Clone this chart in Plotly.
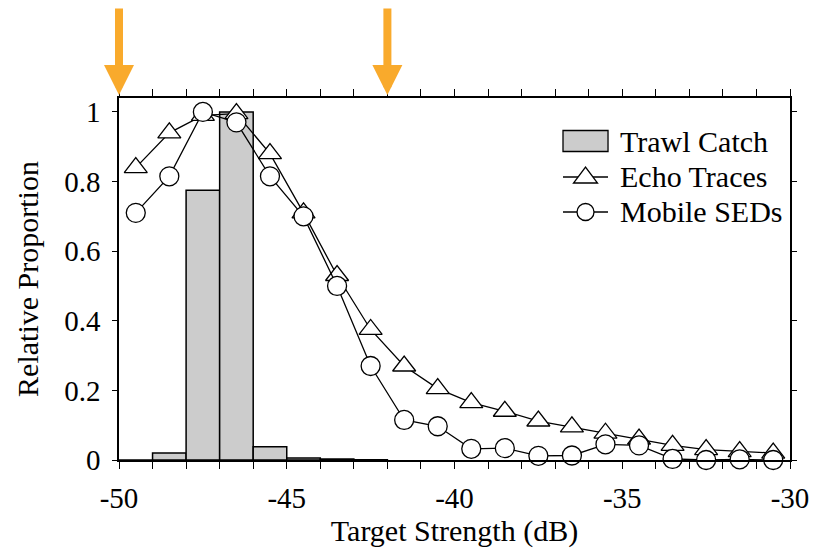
import plotly.graph_objects as go

# Target strength bin centres (dB)
trawl_x = [-49.5, -48.5, -47.5, -46.5, -45.5, -44.5, -43.5, -42.5]
trawl_catch = [0.0, 0.02, 0.775, 1.0, 0.038, 0.006, 0.003, 0.001]

ts_x = [-49.5, -48.5, -47.5, -46.5, -45.5, -44.5, -43.5, -42.5, -41.5, -40.5,
        -39.5, -38.5, -37.5, -36.5, -35.5, -34.5, -33.5, -32.5, -31.5, -30.5]
echo_traces = [0.84, 0.94, 0.99, 0.995, 0.88, 0.71, 0.53, 0.375, 0.27, 0.205,
               0.165, 0.14, 0.112, 0.095, 0.077, 0.06, 0.042, 0.03, 0.024, 0.02]
mobile_seds = [0.71, 0.815, 1.0, 0.97, 0.815, 0.70, 0.50, 0.27, 0.115, 0.097,
               0.032, 0.034, 0.012, 0.013, 0.045, 0.042, 0.003, 0.0, 0.002, 0.0]

x_ticks = [-50, -45, -40, -35, -30]
x_tick_labels = ["-50", "-45", "-40", "-35", "-30"]
y_ticks = [0, 0.2, 0.4, 0.6, 0.8, 1.0]
y_tick_labels = ["0", "0.2", "0.4", "0.6", "0.8", "1"]

arrow_x = [-50, -42]

FONT = "Liberation Serif"
ORANGE = "#F9AA2C"
TICK_SIZE = 29
TITLE_SIZE = 30
LEGEND_SIZE = 30

fig = go.Figure()

fig.add_trace(go.Bar(
    x=trawl_x, y=trawl_catch, width=1.0, name="Trawl Catch",
    marker=dict(color="#CCCCCC", line=dict(color="black", width=1.5)),
    showlegend=False,
))
fig.add_trace(go.Scatter(
    x=ts_x, y=echo_traces, mode="lines+markers", name="Echo Traces",
    line=dict(color="black", width=1.3),
    marker=dict(symbol="triangle-up", size=20, color="white",
                line=dict(color="black", width=1.3)),
    showlegend=False, cliponaxis=False,
))
fig.add_trace(go.Scatter(
    x=ts_x, y=mobile_seds, mode="lines+markers", name="Mobile SEDs",
    line=dict(color="black", width=1.3),
    marker=dict(symbol="circle", size=19, color="white",
                line=dict(color="black", width=1.3)),
    showlegend=False, cliponaxis=False,
))

# Hand-built legend (paper coordinates)
leg_x0, leg_x1 = 0.6617, 0.7288
leg_xm = (leg_x0 + leg_x1) / 2
leg_text_x = 0.7437
row_y = [0.8812, 0.7818, 0.6851]
labels = ["Trawl Catch", "Echo Traces", "Mobile SEDs"]

shapes = [
    dict(type="rect", xref="paper", yref="paper", x0=leg_x0, x1=leg_x1,
         y0=row_y[0] - 0.029, y1=row_y[0] + 0.029,
         fillcolor="#CCCCCC", line=dict(color="black", width=1.3)),
]
for ry in row_y[1:]:
    shapes.append(dict(type="line", xref="paper", yref="paper",
                       x0=leg_x0, x1=leg_x1, y0=ry, y1=ry,
                       line=dict(color="black", width=1.3)))
shapes.append(dict(type="path", xref="paper", yref="paper",
                   xsizemode="pixel", ysizemode="pixel",
                   xanchor=leg_xm, yanchor=row_y[1],
                   path="M-12,-6 L12,-6 L0,10 Z",
                   fillcolor="white", line=dict(color="black", width=1.3)))
shapes.append(dict(type="circle", xref="paper", yref="paper",
                   xsizemode="pixel", ysizemode="pixel",
                   xanchor=leg_xm, yanchor=row_y[2],
                   x0=-8.5, x1=8.5, y0=-8.5, y1=8.5,
                   fillcolor="white", line=dict(color="black", width=1.3)))

annotations = []
for ry, lab in zip(row_y, labels):
    annotations.append(dict(x=leg_text_x, y=ry, xref="paper", yref="paper",
                            text=lab, showarrow=False, xanchor="left",
                            yanchor="middle", yshift=0,
                            font=dict(family=FONT, size=LEGEND_SIZE,
                                      color="black")))

# Orange marker arrows above the plot
for ax_val in arrow_x:
    annotations.append(dict(x=ax_val, y=1.0, xref="x", yref="paper",
                            ax=0, ay=-91, axref="pixel", ayref="pixel",
                            showarrow=True, arrowhead=2, arrowsize=0.75,
                            arrowwidth=8, arrowcolor=ORANGE, standoff=3,
                            text=""))

fig.update_layout(
    width=819, height=550,
    margin=dict(l=119, r=29, t=98, b=90),
    paper_bgcolor="white", plot_bgcolor="white",
    font=dict(family=FONT, size=TICK_SIZE, color="black"),
    barmode="overlay",
    shapes=shapes, annotations=annotations,
    xaxis=dict(
        range=[-50, -30], tickvals=x_ticks, ticktext=x_tick_labels,
        ticks="outside", ticklen=7, tickwidth=1.3, tickcolor="black",
        minor=dict(dtick=1, ticks="outside", ticklen=7, tickwidth=1.3,
                   tickcolor="black"),
        showline=True, linecolor="black", linewidth=1.5, mirror="ticks",
        showgrid=False, zeroline=False, automargin=False,
        title=dict(text="Target Strength (dB)", standoff=6,
                   font=dict(family=FONT, size=TITLE_SIZE)),
        tickfont=dict(family=FONT, size=TICK_SIZE),
        ticklabelstandoff=4,
    ),
    yaxis=dict(
        range=[0, 1.04], tickvals=y_ticks, ticktext=y_tick_labels,
        ticks="outside", ticklen=5, tickwidth=1.3, tickcolor="black",
        showline=True, linecolor="black", linewidth=1.5, mirror="ticks",
        showgrid=False, zeroline=False, automargin=False,
        title=dict(text="Relative Proportion", standoff=17,
                   font=dict(family=FONT, size=TITLE_SIZE)),
        tickfont=dict(family=FONT, size=TICK_SIZE),
        ticklabelstandoff=6,
    ),
)

fig.write_html("out.html")
